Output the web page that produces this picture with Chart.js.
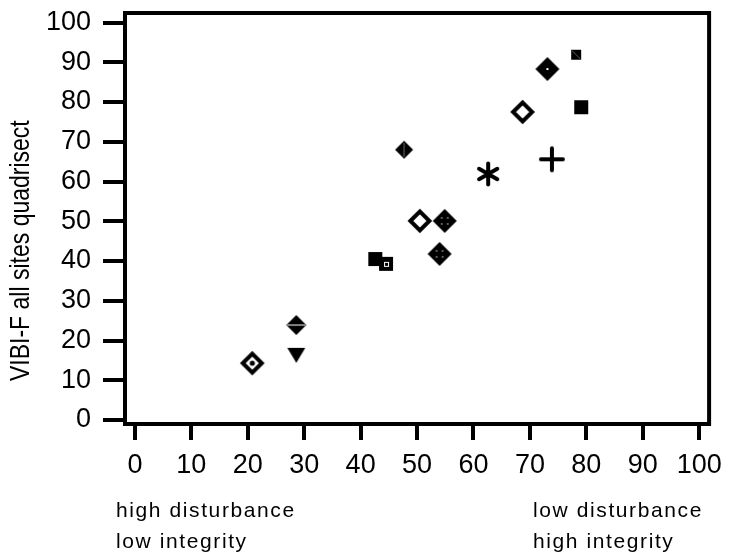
<!DOCTYPE html>
<html><head><meta charset="utf-8">
<script src="https://cdn.jsdelivr.net/npm/chart.js@4/dist/chart.umd.min.js"></script>
<style>html,body{margin:0;padding:0;background:#fff;}#wrap{width:731px;height:558px;}</style>
</head><body><div id="wrap"><canvas id="c" width="731" height="558"></canvas></div>
<script>
// ---- data ----
const siteLabels = ["Site 1","Site 2","Site 3","Site 4","Site 5","Site 6","Site 7","Site 8","Site 9","Site 10","Site 11","Site 12","Site 13","Site 14","Site 15"];
const disturbanceScore = [78.2, 73.1, 68.7, 79.1, 47.7, 73.9, 62.6, 50.5, 54.9, 54.0, 42.6, 44.5, 28.6, 28.6, 20.8];
const vibiScore = [91.9, 88.3, 77.5, 78.7, 68.0, 65.6, 61.9, 50.1, 50.1, 41.8, 40.5, 39.3, 23.9, 16.4, 14.3];
const xTickValues = [0,10,20,30,40,50,60,70,80,90,100];
const yTickValues = [0,10,20,30,40,50,60,70,80,90,100];
const yAxisTitle = "VIBI-F all sites quadrisect";
const leftNote = ["high disturbance","low integrity"];
const rightNote = ["low disturbance","high integrity"];

// ---- marker styles (one per site) ----
const markerKinds = ['smallSquare','diamondDot','openDiamond','square','hatchDiamond','plus','asterisk','openDiamond','diamondDots','diamondDots','square','squareMark','splitDiamond','triangleDown','openDiamondDot'];

function marker(kind){
  const s = 30, m = s/2;
  const c = document.createElement('canvas'); c.width = s; c.height = s;
  const g = c.getContext('2d');
  g.fillStyle = '#000'; g.strokeStyle = '#000';
  const diamond = r => { g.beginPath(); g.moveTo(m-r,m); g.lineTo(m,m-r); g.lineTo(m+r,m); g.lineTo(m,m+r); g.closePath(); };
  switch(kind){
    case 'smallSquare':
      g.fillRect(m-5,m-5,10,10);
      g.strokeStyle='#777'; g.lineWidth=0.8; g.beginPath(); g.moveTo(m-4,m-4); g.lineTo(m+4,m+4); g.stroke(); break;
    case 'square': g.fillRect(m-7,m-7,14,14); break;
    case 'squareMark':
      g.fillRect(m-7,m-7,14,14);
      g.strokeStyle='#fff'; g.lineWidth=1; g.strokeRect(m-1.5,m-1.5,4,4); break;
    case 'diamondDot':
      diamond(12); g.fill(); g.fillStyle='#fff'; g.fillRect(m-1,m-1,2,2); break;
    case 'diamondDots':
      diamond(12); g.fill(); g.fillStyle='#fff';
      [[-3,-3],[3,-3],[-3,3],[3,3]].forEach(([dx,dy])=>g.fillRect(m+dx-0.6,m+dy-0.6,1.2,1.2)); break;
    case 'openDiamond':
      diamond(9.5); g.lineWidth=4; g.stroke(); break;
    case 'openDiamondDot':
      diamond(9.5); g.lineWidth=4; g.stroke();
      g.beginPath(); g.arc(m,m,2.6,0,2*Math.PI); g.fill(); break;
    case 'hatchDiamond':
      diamond(9); g.fill(); g.strokeStyle='#888'; g.lineWidth=0.8;
      g.beginPath(); g.moveTo(m,m-7); g.lineTo(m,m+7); g.stroke(); break;
    case 'splitDiamond':
      diamond(10); g.fill(); g.strokeStyle='#fff'; g.lineWidth=1;
      g.beginPath(); g.moveTo(m-9,m); g.lineTo(m+9,m); g.stroke(); break;
    case 'triangleDown':
      g.beginPath(); g.moveTo(m-9,m-7); g.lineTo(m+9,m-7); g.lineTo(m,m+8); g.closePath(); g.fill(); break;
    case 'plus':
      g.lineWidth=4; g.lineCap='round'; g.beginPath();
      g.moveTo(m-11,m); g.lineTo(m+11,m); g.moveTo(m,m-11); g.lineTo(m,m+11); g.stroke(); break;
    case 'asterisk':
      g.lineWidth=4; g.lineCap='round'; g.beginPath();
      [90,30,150].forEach(a=>{const r=a*Math.PI/180, L=10.5; g.moveTo(m-L*Math.cos(r),m-L*Math.sin(r)); g.lineTo(m+L*Math.cos(r),m+L*Math.sin(r));});
      g.stroke(); break;
  }
  return c;
}

const points = disturbanceScore.map((x,i)=>({x:x, y:vibiScore[i]}));

const FONT = '"Liberation Sans", Arial, Helvetica, sans-serif';

const decor = {
  id:'decor',
  beforeDatasetsDraw(chart){
    const {ctx, chartArea:a} = chart;
    ctx.save();
    ctx.strokeStyle='#000'; ctx.lineWidth=4; ctx.lineJoin='miter';
    ctx.strokeRect(a.left, a.top, a.right-a.left, a.bottom-a.top);
    ctx.restore();
  },
  afterDraw(chart){
    const ctx = chart.ctx;
    ctx.save();
    ctx.fillStyle='#000';
    ctx.font = '21px ' + FONT;
    ctx.letterSpacing = '1.6px';
    ctx.textAlign='left'; ctx.textBaseline='alphabetic';
    ctx.fillText(leftNote[0], 116, 517);
    ctx.fillText(leftNote[1], 116, 548);
    ctx.fillText(rightNote[0], 533, 517);
    ctx.fillText(rightNote[1], 533, 548);
    ctx.letterSpacing = '0px';
    ctx.translate(21, 381);
    ctx.rotate(-Math.PI/2);
    ctx.scale(1, 1.2);
    ctx.font = '23px ' + FONT;
    ctx.textBaseline='middle';
    ctx.fillText(yAxisTitle, 0, 0);
    ctx.restore();
  }
};

new Chart(document.getElementById('c'), {
  type:'scatter',
  data:{ datasets:[{
    label:'VIBI-F vs disturbance',
    data: points,
    pointStyle: markerKinds.map(marker),
    pointRadius: 12,
    pointHoverRadius: 12,
    backgroundColor:'#000', borderColor:'#000'
  }]},
  options:{
    responsive:false, animation:false,
    devicePixelRatio:1,
    layout:{padding:{left:0,right:18,top:13,bottom:0}},
    plugins:{legend:{display:false}, tooltip:{enabled:false}, title:{display:false}},
    scales:{
      x:{
        type:'linear', min:-1.76, max:101.76, bounds:'data',
        afterBuildTicks: s => { s.ticks = xTickValues.map(v=>({value:v})); },
        afterFit: s => { s.height = 134; },
        grid:{drawOnChartArea:false, drawTicks:true, tickLength:16, lineWidth:4, color:'#000'},
        border:{display:false},
        ticks:{color:'#000', font:{family:FONT, size:27}, padding:9, maxRotation:0, autoSkip:false}
      },
      y:{
        type:'linear', min:-1.0, max:102.4, bounds:'data',
        afterBuildTicks: s => { s.ticks = yTickValues.map(v=>({value:v})); },
        afterFit: s => { s.width = 125; },
        grid:{drawOnChartArea:false, drawTicks:true, tickLength:22, lineWidth:4, color:'#000'},
        border:{display:false},
        ticks:{color:'#000', font:{family:FONT, size:27, lineHeight:0.02}, padding:12, autoSkip:false}
      }
    }
  },
  plugins:[decor]
});
</script></body></html>
